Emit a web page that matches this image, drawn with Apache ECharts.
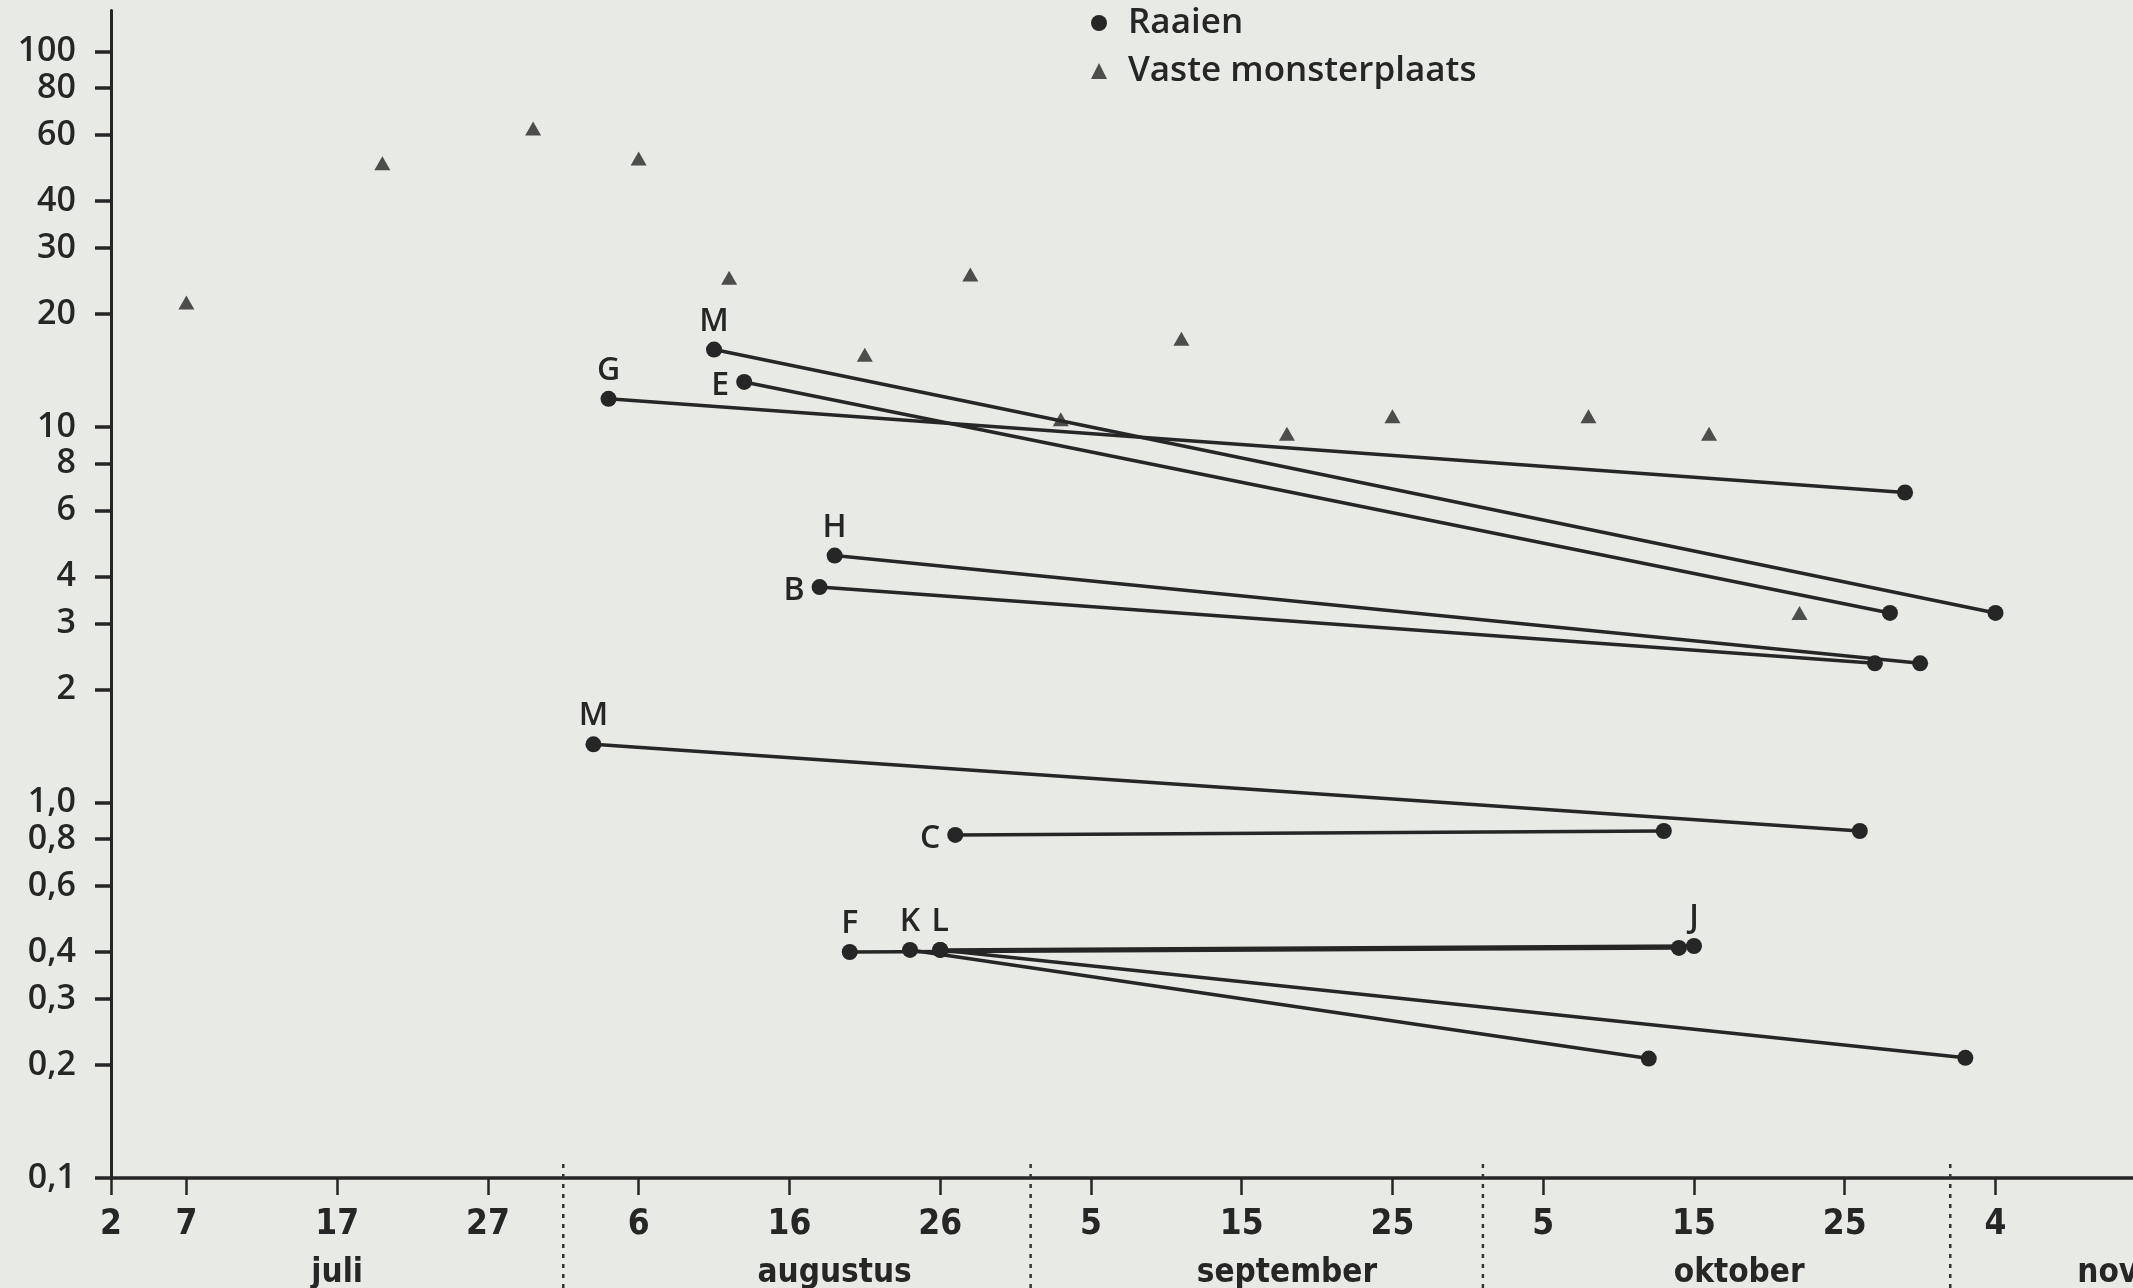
<!DOCTYPE html>
<html><head><meta charset="utf-8">
<script src="https://cdn.jsdelivr.net/npm/echarts@6/dist/echarts.min.js"></script>
<style>html,body{margin:0;padding:0;background:#e8eae5;}#c{width:2133px;height:1288px;}</style>
</head><body><div id="c"></div>
<script>
// ---- data ----
const yTickValues = [0.1,0.2,0.3,0.4,0.6,0.8,1,2,3,4,6,8,10,20,30,40,60,80,100];
const yTickLabels = ['0,1','0,2','0,3','0,4','0,6','0,8','1,0','2','3','4','6','8','10','20','30','40','60','80','100'];
const xTickDates  = ['07-02','07-07','07-17','07-27','08-06','08-16','08-26','09-05','09-15','09-25','10-05','10-15','10-25','11-04'];
const xTickLabels = ['2','7','17','27','6','16','26','5','15','25','5','15','25','4'];
const monthStartDates = ['08-01','09-01','10-01','11-01'];
const monthLabelDates = ['07-17','08-19','09-18','10-18','11-15'];
const monthNames = ['juli','augustus','september','oktober','november'];

const vasteDates  = ['07-07','07-20','07-30','08-06','08-12','08-21','08-28','09-03','09-11','09-18','09-25','10-08','10-16','10-22'];
const vasteValues = [21.5,50.5,62.5,52,25,15.6,25.5,10.5,17.2,9.6,10.7,10.7,9.6,3.2];

const raaiNames       = ['M','E','G','H','B','M','C','F','J','K','L'];
const raaiStartDates  = ['08-11','08-13','08-04','08-19','08-18','08-03','08-27','08-20','08-26','08-24','08-26'];
const raaiStartValues = [16.1,13.2,11.9,4.55,3.75,1.43,0.82,0.40,0.405,0.405,0.405];
const raaiEndDates    = ['11-04','10-28','10-29','10-30','10-27','10-26','10-13','10-14','10-15','10-12','11-02'];
const raaiEndValues   = [3.2,3.2,6.7,2.35,2.35,0.84,0.84,0.41,0.415,0.208,0.209];

// ---- styling of the letter labels (which end, which side) ----
const labelPlacement = [
  {end:0,pos:'top'},{end:0,pos:'left'},{end:0,pos:'top'},{end:0,pos:'top'},{end:0,pos:'left'},
  {end:0,pos:'top'},{end:0,pos:'left'},{end:0,pos:'top'},{end:1,pos:'top'},{end:0,pos:'top'},{end:0,pos:'top'}
];

const monthOffset = {'07':0,'08':31,'09':62,'10':92,'11':123};
function dayIndex(s){ const p = s.split('-'); return monthOffset[p[0]] + (+p[1]) - 1; }
const lg = Math.log10;

const xTickVals = xTickDates.map(dayIndex);
const yTickLogs = yTickValues.map(lg);
const monthLabelVals = monthLabelDates.map(dayIndex);
function pick(vals, labels, v){ for (let i=0;i<vals.length;i++){ if (Math.abs(vals[i]-v)<1e-6) return labels[i]; } return ''; }

const INK = '#262626';
const FONT = "'Open Sans', 'DejaVu Sans', sans-serif";
const CFONT = "'DejaVu Sans Condensed','Liberation Sans Narrow','Open Sans', sans-serif";

const series = [];
series.push({
  name:'Vaste monsterplaats', type:'scatter', xAxisIndex:0, yAxisIndex:0,
  symbol:'triangle', symbolSize:[16,14], itemStyle:{color:INK},
  data: vasteDates.map((d,i)=>[dayIndex(d), lg(vasteValues[i])]), z:3
});
raaiNames.forEach((nm,i)=>{
  const pts = [[dayIndex(raaiStartDates[i]), lg(raaiStartValues[i])],[dayIndex(raaiEndDates[i]), lg(raaiEndValues[i])]];
  const lp = labelPlacement[i];
  const data = pts.map((p,k)=>{
    const item = {value:p};
    if (k===lp.end) item.label = {show:true, position:lp.pos, distance: lp.pos==='left'?7:4,
      offset: lp.pos==='left'?[0,4]:[0,0], formatter:nm, fontSize:32, fontWeight:600, fontFamily:FONT, color:INK};
    return item;
  });
  series.push({name:'Raaien', type:'line', xAxisIndex:0, yAxisIndex:0, data,
    symbol:'circle', symbolSize:16, showSymbol:true, itemStyle:{color:INK},
    lineStyle:{color:INK, width:3.5}, label:{show:false}, z:4});
});
monthStartDates.forEach(d=>{
  const t = dayIndex(d);
  series.push({name:'m'+d, type:'line', xAxisIndex:1, yAxisIndex:1, data:[[t,0],[t,1]],
    symbol:'none', lineStyle:{color:'#333', width:2.5, type:[4,6]}, silent:true});
});

const GL = 111, GW = 139 * 15.076;
const chart = echarts.init(document.getElementById('c'), null, {renderer:'canvas'});
chart.setOption({
  animation:false,
  backgroundColor:'#e8eae5',
  legend:{
    data:[{name:'Raaien', icon:'circle'},{name:'Vaste monsterplaats', icon:'triangle'}],
    orient:'vertical', left:1086, top:0, itemWidth:16, itemHeight:16, itemGap:12,
    textStyle:{fontSize:35, fontWeight:600, fontFamily:FONT, color:INK, lineHeight:36, padding:[0,0,0,16]},
    selectedMode:false
  },
  grid:[
    {left:GL, width:GW, top:10.5, bottom:110, containLabel:false, outerBoundsMode:'none'},
    {left:GL, width:GW, top:1163, bottom:0, containLabel:false, outerBoundsMode:'none'}
  ],
  xAxis:[
    {type:'value', gridIndex:0, min:1, max:140,
      axisLine:{show:true, onZero:false, lineStyle:{color:INK, width:3.5}},
      axisTick:{show:true, length:17, customValues:xTickVals, lineStyle:{color:INK, width:2.5}},
      axisLabel:{customValues:xTickVals, formatter:v=>pick(xTickVals,xTickLabels,v), margin:29,
        fontSize:35, fontWeight:600, fontFamily:CFONT, color:INK},
      splitLine:{show:false}},
    {type:'value', gridIndex:1, min:1, max:140,
      axisLine:{show:false, onZero:false}, axisTick:{show:false}, splitLine:{show:false},
      axisLabel:{inside:true, margin:-2, customValues:monthLabelVals,
        formatter:v=>pick(monthLabelVals,monthNames,v), fontSize:33, fontWeight:600, fontFamily:CFONT, color:INK}}
  ],
  yAxis:[
    {type:'value', gridIndex:0, min:-1, max:2.11,
      axisLine:{show:true, onZero:false, lineStyle:{color:INK, width:3}},
      axisTick:{show:true, length:16, customValues:yTickLogs, lineStyle:{color:INK, width:3.5}},
      axisLabel:{customValues:yTickLogs, formatter:v=>pick(yTickLogs,yTickLabels,v), margin:35,
        fontSize:34, fontWeight:600, fontFamily:FONT, color:INK},
      splitLine:{show:false}},
    {type:'value', gridIndex:1, min:0, max:1, show:false}
  ],
  series
});
</script></body></html>
